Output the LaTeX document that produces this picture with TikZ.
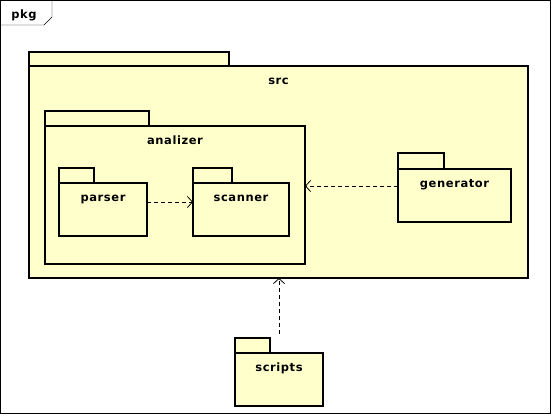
\documentclass[tikz,border=0pt]{standalone}
\usepackage{fontspec}
\newfontfamily\pkgfont[LetterSpace=5]{DejaVu Sans Bold}
\usetikzlibrary{arrows.meta, positioning}
\definecolor{pkgfill}{HTML}{FFFFCC}

\begin{document}
\begin{tikzpicture}[x=1pt, y=-1pt,
    every node/.style={font=\pkgfont\fontsize{11.5}{14}\selectfont},
    pkgbody/.style 2 args={draw, line width=2pt, fill=pkgfill, anchor=north west,
        inner sep=0pt, outer sep=0pt, minimum width=#1, minimum height=#2},
    pkgtab/.style={draw, line width=2pt, fill=pkgfill},
    pkgname/.style={anchor=base, inner sep=0pt},
    dep/.style={line width=0.8pt, dash pattern=on 4pt off 3pt,
        -{Straight Barb[length=5pt, width=11pt]}}]
  \useasboundingbox (0,0) rectangle (554,416);
  % diagram frame
  \draw (0.5,0.5) rectangle (550.5,413.5);
  \draw (0.5,25) -- (44,25) -- (52,17) -- (52,0.5);
  \node[pkgname] (frametitle) at (24,18) {pkg};
  % src
  \draw[pkgtab] (29,66) rectangle (229,52);
  \node[pkgbody={499}{212}] (src) at (29,66) {};
  \node[pkgname] (srcname) at ([yshift=-18.5pt]src.north) {src};
  % analizer
  \draw[pkgtab] (45,126) rectangle (149,111);
  \node[pkgbody={260}{138}] (analizer) at (45,126) {};
  \node[pkgname] (analizername) at ([yshift=-18.5pt]analizer.north) {analizer};
  \draw[pkgtab] (59,183) rectangle (94,168);
  \node[pkgbody={88}{53}] (parser) at (59,183) {};
  \node[pkgname] (parsername) at ([yshift=-18.5pt]parser.north) {parser};
  \draw[pkgtab] (193,183) rectangle (232,168);
  \node[pkgbody={96}{53}] (scanner) at (193,183) {};
  \node[pkgname] (scannername) at ([yshift=-18.5pt]scanner.north) {scanner};
  % generator
  \draw[pkgtab] (398,169) rectangle (444,153);
  \node[pkgbody={113}{53}] (generator) at (398,169) {};
  \node[pkgname] (generatorname) at ([yshift=-18.5pt]generator.north) {generator};
  % scripts
  \draw[pkgtab] (235,353) rectangle (270,338);
  \node[pkgbody={88}{53}] (scripts) at (235,353) {};
  \node[pkgname] (scriptsname) at ([yshift=-18.5pt]scripts.north) {scripts};
  % dependencies
  \draw[dep] (parser.east |- 0,202) -- (scanner.west |- 0,202);
  \draw[dep] (generator.west |- 0,186) -- (analizer.east |- 0,186);
  \draw[dep, shorten <=19pt] (scripts.north) -- (scripts.north |- src.south);
\end{tikzpicture}
\end{document}
